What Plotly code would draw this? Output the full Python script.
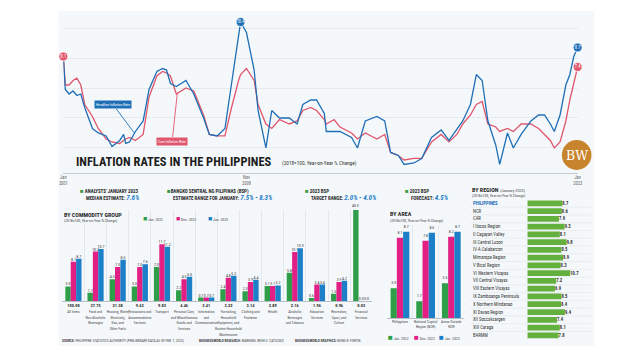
import plotly.graph_objects as go

# The page body has an 8px margin, so the figure is 16px smaller than the window
# and every position below is given in window pixels, shifted by that margin.
OX, OY = 8, 8
FW, FH = 624, 344
def fx(x): return (x - OX) / FW
def fy(y): return 1 - (y - OY) / FH

FONT = "Liberation Sans Narrow, Roboto Condensed, Arial Narrow, Roboto, sans-serif"
DARK = "#2a2a2a"
GREEN = "#2e9e48"
PINK = "#e21f84"
BLUE = "#1c7fc7"
HEAD = "#1f6fb6"
CORE = "#e0566c"
RGREEN = "#63b03f"

# ---------------- line chart data ----------------
months = ["2001-01", "2001-02", "2001-04", "2001-06", "2001-08", "2001-10", "2001-12",
          "2002-04", "2002-07", "2002-11",
          "2003-02", "2003-06", "2003-08", "2003-09", "2003-11",
          "2004-02", "2004-06", "2004-09",
          "2005-01", "2005-04", "2005-06", "2005-08", "2005-11",
          "2006-04", "2006-08",
          "2007-01", "2007-04", "2007-08", "2007-12",
          "2008-03", "2008-07", "2008-08", "2008-11",
          "2009-03", "2009-05", "2009-09", "2009-12",
          "2010-04", "2010-09",
          "2011-01", "2011-04", "2011-08", "2011-11",
          "2012-03", "2012-04", "2012-08", "2012-11",
          "2013-05", "2013-08", "2013-12",
          "2014-06", "2014-10",
          "2015-01", "2015-05", "2015-08",
          "2016-01", "2016-05", "2016-10",
          "2017-03", "2017-07", "2017-11",
          "2018-02", "2018-06", "2018-09", "2018-12",
          "2019-03", "2019-07", "2019-09",
          "2020-01", "2020-04", "2020-08",
          "2021-01", "2021-05", "2021-08", "2021-11",
          "2022-01", "2022-04", "2022-07", "2022-09", "2022-11",
          "2023-01"]
headline = [8.1, 5.9, 5.6, 5.8, 5.5, 5.6, 4.7,
            3.3, 3.0, 2.8,
            2.1, 2.5, 2.9, 2.3, 2.4,
            3.1, 3.8, 5.9,
            7.1, 7.3, 7.2, 6.3, 6.1,
            6.5, 5.6,
            4.0, 2.9, 2.8, 3.3,
            5.9, 9.5, 10.4, 9.7,
            7.2, 4.5, 2.0, 4.5,
            4.0, 4.0,
            3.6, 4.9, 5.2, 5.2,
            4.3, 3.1, 3.1, 3.1,
            2.7, 2.0, 3.8,
            4.1, 3.8,
            1.7, 1.5, 0.9,
            1.0, 1.3, 2.7,
            3.2, 2.5, 3.2,
            3.8, 4.9, 6.9, 6.5,
            3.8, 2.2, 0.9,
            3.0, 2.0, 2.9,
            3.8, 4.2, 4.2, 3.6,
            3.1, 4.2, 6.2, 6.9, 8.1,
            8.7]
core = [8.1, 6.2, 6.2, 6.5, 6.65, 6.2, 4.9,
        4.1, 3.3, 2.6,
        2.4, 2.3, 2.5, 2.6, 2.7,
        2.5, 2.9, 5.4,
        6.8, 7.1, 7.0, 6.8, 5.6,
        6.0, 5.8,
        4.2, 2.9, 2.8, 2.8,
        4.5, 6.5, 6.9, 7.3,
        6.5, 4.9, 3.6, 3.3,
        3.9, 3.6,
        3.8, 4.5, 4.7, 4.5,
        3.9, 3.6, 3.9, 3.4,
        3.0, 2.6, 3.0,
        2.6, 2.9,
        1.7, 1.5, 1.2,
        1.3, 1.3, 2.4,
        2.9, 2.4, 2.9,
        3.6, 4.2, 4.9, 5.1,
        3.6, 3.4, 3.1,
        3.3, 3.1, 3.6,
        3.6, 3.3, 2.9, 2.5,
        2.0, 2.4, 3.8, 5.2, 6.3,
        7.4]
line_tickvals = ["2001-01-01", "2008-11-01", "2023-01-01"]
line_ticktext = ["Jan<br>2001", "Nov<br>2008", "Jan<br>2023"]

# ---------------- commodity group ----------------
commodities = ["All Items", "Food", "Housing", "Restaurants", "Transport", "Personal Care",
               "Information", "Furnishing", "Clothing", "Health", "Alcoholic", "Education",
               "Recreation", "Financial"]
commodity_labels = ["All Items",
                    "Food and<br>Non-Alcoholic<br>Beverages",
                    "Housing, Water,<br>Electricity,<br>Gas, and<br>Other Fuels",
                    "Restaurants and<br>Accommodation<br>Services",
                    "Transport",
                    "Personal Care,<br>and Miscellaneous<br>Goods and<br>Services",
                    "Information<br>and<br>Communication",
                    "Furnishing,<br>Household<br>Equipment, and<br>Routine Household<br>Maintenance",
                    "Clothing and<br>Footwear",
                    "Health",
                    "Alcoholic<br>Beverages<br>and Tobacco",
                    "Education<br>Services",
                    "Recreation,<br>Sport, and<br>Culture",
                    "Financial<br>Services"]
weights = ["100.00", "37.75", "21.38", "9.62", "9.03", "4.46", "3.41", "3.22", "3.14",
           "2.89", "2.16", "1.96", "0.96", "0.03"]
com_jan22 = [3.0, 1.7, 4.5, 3.0, 7.0, 2.2, 0.7, 2.4, 2.0, 3.1, 5.8, 0.6, 1.5, 40.3]
com_dec22 = [8.1, 10.2, 7.0, 7.0, 11.7, 4.5, 0.7, 4.8, 3.9, 3.1, 10.1, 3.4, 3.9, 0.0]
com_jan23 = [8.7, 10.7, 8.5, 7.6, 11.2, 5.0, 0.7, 5.2, 4.4, 3.2, 10.9, 3.4, 4.2, 0.0]
series_names = ["Jan. 2022", "Dec. 2022", "Jan. 2023"]

# ---------------- by area ----------------
areas = ["Philippines", "NCR", "AONCR"]
area_labels = ["Philippines", "National Capital<br>Region (NCR)", "Areas Outside<br>NCR"]
area_jan22 = [3.0, 1.7, 3.5]
area_dec22 = [8.1, 7.8, 8.2]
area_jan23 = [8.7, 8.6, 8.7]

# ---------------- by region ----------------
regions = ["PHILIPPINES", "NCR", "CAR", "I Ilocos Region", "II Cagayan Valley", "III Central Luzon",
           "IV-A Calabarzon", "Mimaropa Region", "V Bicol Region", "VI Western Visayas",
           "VII Central Visayas", "VIII Eastern Visayas", "IX Zamboanga Peninsula",
           "X Northern Mindanao", "XI Davao Region", "XII Soccsksargen", "XIII Caraga", "BARMM"]
region_vals = [8.7, 8.6, 7.9, 9.3, 8.1, 9.8, 8.5, 8.9, 8.3, 10.7, 7.2, 6.9, 8.5, 8.4, 9.4, 7.4, 8.1, 7.8]

BARGAP = 0.27
fig = go.Figure()

# ---- line chart
fig.add_trace(go.Scatter(x=months, y=core, mode="lines", line=dict(color=CORE, width=1.3),
                         xaxis="x", yaxis="y", hoverinfo="skip"))
fig.add_trace(go.Scatter(x=months, y=headline, mode="lines", line=dict(color=HEAD, width=1.3),
                         xaxis="x", yaxis="y", hoverinfo="skip"))
ipk = headline.index(max(headline))
fig.add_trace(go.Scatter(x=[months[ipk], months[-1]], y=[headline[ipk], headline[-1]],
                         mode="markers+text", marker=dict(size=9, color=HEAD, line=dict(color="white", width=0.8)),
                         text=[f"{headline[ipk]:.1f}", f"{headline[-1]:.1f}"], textposition="middle center",
                         textfont=dict(size=4.5, color="white", family=FONT), cliponaxis=False,
                         xaxis="x", yaxis="y"))
fig.add_trace(go.Scatter(x=[months[0], months[-1]], y=[core[0], core[-1]],
                         mode="markers+text", marker=dict(size=9, color=CORE, line=dict(color="white", width=0.8)),
                         text=[f"{core[0]:.1f}", f"{core[-1]:.1f}"], textposition="middle center",
                         textfont=dict(size=4.5, color="white", family=FONT), cliponaxis=False,
                         xaxis="x", yaxis="y"))

# ---- commodity bars
for vals, col, nm in zip([com_jan22, com_dec22, com_jan23], [GREEN, PINK, BLUE], series_names):
    tp = ["outside" if v < 18 else "none" for v in vals]
    fig.add_trace(go.Bar(x=commodities, y=vals, name=nm, marker=dict(color=col, line=dict(width=0)),
                         text=[f"{v:.1f}" for v in vals], textposition=tp, constraintext="none",
                         textfont=dict(size=3.9, color="#333", family=FONT),
                         xaxis="x2", yaxis="y2", hoverinfo="skip"))

# ---- area bars
for vals, col, nm in zip([area_jan22, area_dec22, area_jan23], [GREEN, PINK, BLUE], series_names):
    fig.add_trace(go.Bar(x=areas, y=vals, name=nm, marker=dict(color=col, line=dict(width=0)),
                         text=[f"{v:.1f}" for v in vals], textposition="outside", constraintext="none",
                         textfont=dict(size=3.9, color="#333", family=FONT),
                         xaxis="x3", yaxis="y3", hoverinfo="skip"))

# ---- region bars
fig.add_trace(go.Bar(y=regions, x=region_vals, orientation="h", width=0.74,
                     marker=dict(color=RGREEN, line=dict(width=0)),
                     text=[f"<b>{v:.1f}</b>" for v in region_vals], textposition="outside", constraintext="none",
                     textfont=dict(size=4.6, color="#333", family=FONT),
                     xaxis="x4", yaxis="y4", hoverinfo="skip"))

def tick_lbl(w, name):
    lines = "<br>".join(f"<span style='font-size:3.6px;color:#444'>{ln}</span>" for ln in name.split("<br>"))
    return f"<b>{w}</b><br>{lines}"

layout = dict(
    width=FW, height=FH, autosize=False, margin=dict(l=0, r=0, t=0, b=0, pad=0),
    paper_bgcolor="white", plot_bgcolor="rgba(0,0,0,0)", showlegend=False,
    font=dict(family=FONT, color=DARK),
    barmode="group", bargap=BARGAP, bargroupgap=0.0,
    uniformtext=dict(mode=False),
    xaxis=dict(domain=[fx(60), fx(581)], range=["2001-01-01", "2023-01-01"], type="date",
               tickvals=line_tickvals, ticktext=line_ticktext, tickfont=dict(size=4.5, color="#666"),
               tickangle=0, showgrid=False, showline=True, linecolor="#c5ccd2", linewidth=0.8, ticks="",
               zeroline=False, anchor="y"),
    yaxis=dict(domain=[fy(173), fy(15)], range=[0.33, 10.87], showticklabels=False, showgrid=True,
               gridcolor="#e4eaee", gridwidth=0.6, dtick=2, zeroline=False, anchor="x"),
    xaxis2=dict(domain=[fx(59), fx(373)], type="category", tickvals=commodities,
                ticktext=[tick_lbl(w, n) for w, n in zip(weights, commodity_labels)],
                tickfont=dict(size=4.4, color=DARK), tickangle=0, ticks="", tickson="boundaries",
                showgrid=True, gridcolor="#e3e8ec", gridwidth=0.6, showline=True, linecolor="#b7bec4",
                linewidth=0.8, anchor="y2"),
    yaxis2=dict(domain=[fy(301), fy(210)], range=[0, 18.76], visible=False, anchor="x2"),
    xaxis3=dict(domain=[fx(388), fx(466)], type="category", tickvals=areas, ticktext=area_labels,
                tickfont=dict(size=3.7, color="#444"), tickangle=0, ticks="", tickson="boundaries",
                showgrid=True, gridcolor="#e3e8ec", gridwidth=0.6, showline=True, linecolor="#b7bec4",
                linewidth=0.8, anchor="y3"),
    yaxis3=dict(domain=[fy(318), fy(225)], range=[0, 9.39], visible=False, anchor="x3"),
    xaxis4=dict(domain=[fx(530), fx(593)], range=[0, 15.5], visible=False, anchor="y4"),
    yaxis4=dict(domain=[fy(339.8), fy(198.8)], type="category", autorange="reversed",
                showticklabels=False, showgrid=False, zeroline=False, anchor="x4"),
)
fig.update_layout(**layout)

shapes = [
    dict(type="rect", xref="paper", yref="paper", x0=fx(55), x1=fx(598), y0=fy(346), y1=fy(11),
         fillcolor="#f5f8fa", line=dict(width=0), layer="below"),
    # BW logo
    dict(type="circle", xref="paper", yref="paper", x0=fx(565), x1=fx(595), y0=fy(170), y1=fy(140),
         fillcolor="#c8842c", line=dict(width=0), layer="above"),
]
for i in range(len(regions) - 1):
    shapes.append(dict(type="line", xref="paper", yref="y4", x0=fx(472), x1=fx(595), y0=i + 0.5, y1=i + 0.5,
                       line=dict(color="#e0e6ea", width=0.6), layer="below"))
fig.update_layout(shapes=shapes)

ann = []
def A(x, y, text, size=5, color=DARK, xanchor="left", yanchor="middle", **kw):
    fam = kw.pop("family", FONT)
    ann.append(dict(x=fx(x), y=fy(y), xref="paper", yref="paper", text=text, showarrow=False,
                    xanchor=xanchor, yanchor=yanchor, font=dict(size=size, color=color, family=fam), **kw))

def sq(c, s=6.5):
    return f"<span style='color:{c};font-size:{s}px'>■</span>"

# Title
A(71, 161.5, "<b>INFLATION RATES IN THE PHILIPPINES</b>", size=12.4, color="#1c1c1c")
A(279, 163, "(2018=100, Year-on-Year % Change)", size=5.3, color="#333")
A(580, 155.5, "BW", size=12.5, color="white", xanchor="center", family="DejaVu Serif")

# line labels
ann.append(dict(x="2004-01-15", y=3.0, xref="x", yref="y", text="Headline Inflation Rate", showarrow=True,
                arrowhead=0, arrowwidth=0.9, arrowcolor=HEAD, ax=-21, ay=-28, bgcolor=HEAD,
                font=dict(size=3.8, color="white", family=FONT), borderpad=1))
ann.append(dict(x="2005-11-15", y=5.6, xref="x", yref="y", text="Core Inflation Rate", showarrow=True,
                arrowhead=0, arrowwidth=0.9, arrowcolor=CORE, ax=-5, ay=47, bgcolor=CORE,
                font=dict(size=3.8, color="white", family=FONT), borderpad=1))

# header row
BL = "#1f7fc8"
A(75, 191, f"{sq('#3a9d45', 6)} <b>ANALYSTS' JANUARY 2023</b>", size=4.9)
A(81, 197.5, f"<b>MEDIAN ESTIMATE: </b><span style='color:{BL};font-size:7px'><b><i>7.6%</i></b></span>", size=4.9)
A(163, 191, f"{sq('#3a9d45', 6)}<b>BANGKO SENTRAL NG PILIPINAS (BSP)</b>", size=4.9)
A(169, 197.5, f"<b>ESTIMATE RANGE FOR JANUARY: </b><span style='color:{BL};font-size:7px'><b><i>7.5% - 8.3%</i></b></span>", size=4.9)
A(303, 191, f"{sq('#3a9d45', 6)} <b>2023 BSP</b>", size=4.9)
A(309, 197.5, f"<b>TARGET RANGE: </b><span style='color:{BL};font-size:7px'><b><i>2.0% - 4.0%</i></b></span>", size=4.9)
A(404, 191, f"{sq('#3a9d45', 6)} <b>2023 BSP</b>", size=4.9)
A(410, 197.5, f"<b>FORECAST: </b><span style='color:{BL};font-size:7px'><b><i>4.5%</i></b></span>", size=4.9)

# commodity title & legend
A(59, 214.5, "<b>BY COMMODITY GROUP</b>", size=6)
A(59, 220.5, "(2018=100, Year-on-Year % Change)", size=3.8, color="#444")
for xx, c, nm in zip([139, 172, 205], [GREEN, PINK, BLUE], series_names):
    A(xx, 219, f"{sq(c, 7)} {nm}", size=3.8, color="#444")
# clipped financial services label
ann.append(dict(x=len(commodities) - 1 - (1 - BARGAP) / 3, y=18.76, xref="x2", yref="y2",
                text=f"{com_jan22[-1]:.1f}", showarrow=False, yanchor="bottom",
                font=dict(size=3.9, color="#333", family=FONT)))

# area titles & legend
A(389, 214, "<b>BY AREA</b>", size=6)
A(389, 220, "(2018=100, Year-on-Year % Change)", size=3.8, color="#444")
for xx, c, nm in zip([387, 413, 439], [GREEN, PINK, BLUE], series_names):
    A(xx, 337.5, f"{sq(c, 8)} {nm}", size=3.8, color="#444")

# region titles & names
A(472, 189, "<b>BY REGION</b> <span style='font-size:4.2px;color:#444'>(January 2023)</span>", size=6)
A(472, 195, "(2018=100, Year-on-Year % Change)", size=3.8, color="#444")
for r in regions:
    is_ph = r == "PHILIPPINES"
    ann.append(dict(x=fx(473), y=r, xref="paper", yref="y4", text=f"<b>{r}</b>" if is_ph else r,
                    showarrow=False, xanchor="left", yanchor="middle",
                    font=dict(size=4.7, color=HEAD if is_ph else "#333", family=FONT)))

# footer
A(57, 340.5, "<b>SOURCE:</b> PHILIPPINE STATISTICS AUTHORITY (PRELIMINARY DATA AS OF FEB. 7, 2023)", size=3.5, color="#444")
A(195, 340.5, "<b>BUSINESSWORLD RESEARCH:</b> MARIEDEL IRISH U. CATILOGO", size=3.5, color="#444")
A(293, 340.5, "<b>BUSINESSWORLD GRAPHICS:</b> BONG R. FORTIN", size=3.5, color="#444")

fig.update_layout(annotations=ann)
fig.write_html("out.html")
